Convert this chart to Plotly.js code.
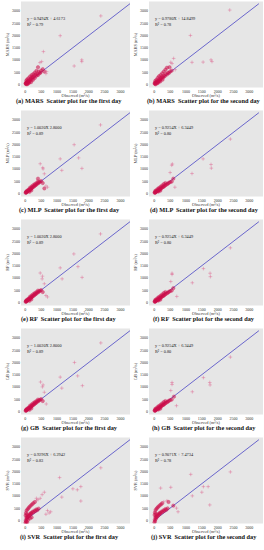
<!DOCTYPE html>
<html><head><meta charset="utf-8">
<script src="https://cdn.plot.ly/plotly-3.0.1.min.js"></script>
<style>html,body{margin:0;padding:0;background:#fff}#c{width:264px;height:550px}</style>
</head><body><div id="c"></div>
<script>
// ---- data (m^3/s) ----
const obsA  = [10,20,30,40,50,60,70,80,90,100,120,140,160,180,200,220,250,280,300,320,350,380,400,420,450,480,500,550,600,650,30,60,100,150,200,250,300,350,400,120,180,240,80,50,20,460,515,570,670,1100,2380,1780,1780,1540];
const predA = [40,30,70,50,90,60,110,80,130,100,160,120,200,250,190,300,280,330,260,400,350,420,380,520,450,480,560,620,520,440,150,200,250,320,380,420,480,550,700,60,90,180,20,0,10,890,930,1340,520,1990,2800,1000,930,750];
const obsB  = [10,20,30,40,60,80,100,120,140,160,180,200,220,250,280,300,330,360,400,430,460,500,550,30,70,110,150,200,250,300,350,400,130,190,260,90,40,2380,1140,1190,1540,1790,1820,610,520,560,660,480];
const predB = [30,60,20,80,50,110,90,150,130,200,170,260,230,300,280,350,330,420,400,480,460,520,560,140,190,260,330,380,450,520,600,680,70,120,190,40,0,3040,2000,900,910,1000,930,1060,900,850,600,700];
const obsC  = [10,20,30,40,60,80,100,120,140,160,180,200,220,250,280,300,330,360,400,430,460,500,550,600,650,700,30,70,110,150,200,250,300,350,400,130,190,2370,1540,1100,1680,1785,1150,470,550,560,600,400];
const predC = [20,40,30,60,70,90,110,120,150,170,190,210,230,260,290,320,340,370,410,440,470,500,420,200,300,250,80,120,160,230,280,330,380,420,480,60,120,2800,1990,1410,1450,1020,940,1210,1050,1000,800,600];
const obsD  = [10,20,30,40,60,80,100,120,140,160,180,200,220,250,280,300,330,360,400,430,460,500,550,30,70,110,150,200,250,300,350,130,190,2400,1540,1790,1800,1190,550,570,500,600,650];
const predD = [30,20,50,40,70,80,100,110,140,150,170,190,210,240,260,280,310,340,370,400,430,460,480,100,130,180,220,270,320,380,420,70,110,2220,1410,1180,1030,810,1150,1200,850,600,250];
const obsE  = [10,20,30,40,60,80,100,120,140,160,180,200,220,250,280,300,330,360,400,430,460,500,550,30,70,110,150,200,250,300,350,400,130,190,2370,1530,1100,1660,1790,1160,470,540,530,600,650,700];
const predE = [20,40,30,60,70,90,110,120,150,170,190,210,230,260,290,320,340,370,410,440,470,500,420,80,120,160,230,280,330,380,420,480,60,120,2800,1980,1410,1460,1020,960,1200,1070,960,760,280,220];
const obsF  = [10,20,30,40,60,80,100,120,140,160,180,200,220,250,280,300,330,360,400,430,460,500,550,30,70,110,150,200,250,300,350,130,190,2400,1550,1760,1770,1200,560,560,520,710,600];
const predF = [30,20,50,40,70,80,100,110,140,150,170,190,210,240,260,280,310,340,370,400,430,460,480,100,130,180,220,270,320,380,420,70,110,2230,1380,1190,1050,800,1190,1140,850,240,580];
const obsG  = [10,20,30,40,60,80,100,120,140,160,180,200,220,250,280,300,330,360,400,430,460,500,550,30,70,110,150,200,250,300,350,400,130,190,2380,1550,1100,1650,1800,1150,480,560,540,600,660];
const predG = [20,40,30,60,70,90,110,120,150,170,190,210,230,260,290,320,340,370,410,440,470,500,420,80,120,160,230,280,330,380,420,480,60,120,2800,2000,1400,1450,1050,950,1200,1080,1000,780,300];
const obsH  = [10,20,30,40,60,80,100,120,140,160,180,200,220,250,280,300,330,360,400,430,460,500,550,30,70,110,150,200,250,300,350,130,190,2400,1550,1750,1760,1200,560,560,520,700,620];
const predH = [30,20,50,40,70,80,100,110,140,150,170,190,210,240,260,280,310,340,370,400,430,460,480,100,130,180,220,270,320,380,420,70,110,2220,1380,1180,1080,800,1180,1100,850,230,600];
const obsI  = [5,15,25,35,50,60,80,100,120,140,160,180,200,230,260,290,320,350,380,420,20,40,70,100,130,170,210,250,300,350,400,30,60,90,150,200,10,45,2380,1080,1500,1640,1750,1750,1150,600,530,470,350,700,750,650,800];
const predI = [-100,0,-50,100,50,150,120,200,180,260,230,300,280,350,330,400,380,450,420,480,300,400,450,500,550,600,650,700,750,800,850,-150,-80,20,80,120,200,250,2150,1750,1290,1250,1380,790,950,1150,1050,900,900,400,300,250,350];
const obsJ  = [5,15,25,35,50,60,80,100,120,140,160,180,200,230,260,290,320,350,380,420,20,40,70,100,130,170,210,250,300,10,45,2400,1150,200,520,1550,1700,1500,1750,1200,400,450,600,700,750];
const predJ = [-80,20,-30,120,60,160,130,220,190,270,240,310,290,360,340,410,390,460,430,490,320,420,470,520,560,610,650,700,760,220,260,1980,1880,1320,1350,1380,1380,1150,630,1000,800,750,600,500,350];
const lineXY = [0, 3300];

const observedSets  = [obsA, obsB, obsC, obsD, obsE, obsF, obsG, obsH, obsI, obsJ];
const predictedSets = [predA, predB, predC, predD, predE, predF, predG, predH, predI, predJ];
const modelNames = ['MARS','MARS','MLP','MLP','RF','RF','GB','GB','SVR','SVR'];
const equations = ['y = 0.9494X + 4.6173','y = 0.9780X + 14.8499','y = 1.0020X 2.8000','y = 0.9254X + 6.3449',
  'y = 1.0020X 2.8000','y = 0.9254X + 6.3449','y = 1.0020X 2.8000','y = 0.9254X + 6.3449',
  'y = 0.9296X + 6.2942','y = 0.9071X + 7.4734'];
const r2Values = ['0.79','0.78','0.89','0.80','0.89','0.80','0.89','0.80','0.83','0.78'];
const captions = ['(a) MARS  Scatter plot for the first day','(b) MARS  Scatter plot for the second day',
  '(c) MLP  Scatter plot for the first day','(d) MLP  Scatter plot for the second day',
  '(e) RF  Scatter plot for the first day','(f) RF  Scatter plot for the second day',
  '(g) GB  Scatter plot for the first day','(h) GB  Scatter plot for the second day',
  '(i) SVR  Scatter plot for the first day','(j) SVR  Scatter plot for the second day'];
const tickVals = [0,500,1000,1500,2000,2500,3000];

// ---- layout geometry (pixels) ----
const W = 264, H = 550;
const colX = [[21,130],[149,263]];
const xRanges = [[-136,3300],[-167,3430]];
const yRange = [-130,3390];
const rowTop = 1.5, rowH = 86, pitch = 109;
const captionCx = [69, 204];
const serif = 'Liberation Serif, Times New Roman, serif';

const data = [], annotations = [];
const layout = {
  width: W, height: H, margin: {l:0,r:0,t:0,b:0},
  paper_bgcolor: '#ffffff', plot_bgcolor: '#e6e6e6', showlegend: false,
  font: {family: serif, color: '#333'}
};

for (let i = 0; i < 10; i++) {
  const col = i % 2, row = Math.floor(i / 2);
  const n = i + 1, sx = n === 1 ? '' : String(n);
  const top = rowTop + pitch * row, bottom = top + rowH;
  const xa = 'x' + sx, ya = 'y' + sx;
  layout['xaxis' + sx] = {
    domain: [colX[col][0] / W, colX[col][1] / W], anchor: ya, range: xRanges[col],
    tickvals: tickVals, ticks: '', showgrid: false, zeroline: false, showline: false,
    tickfont: {size: 4, family: serif, color: '#333'},
    title: {text: 'Observed (m³/s)', font: {size: 4.3, family: serif, color: '#333'}, standoff: 1}
  };
  layout['yaxis' + sx] = {
    domain: [1 - bottom / H, 1 - top / H], anchor: xa, range: yRange,
    tickvals: tickVals, ticks: '', showgrid: false, zeroline: false, showline: false,
    tickfont: {size: 4, family: serif, color: '#333'},
    title: {text: modelNames[i] + ' (m³/s)', font: {size: 4.3, family: serif, color: '#333'}, standoff: 2}
  };
  data.push({
    type: 'scatter', mode: 'lines', x: lineXY, y: lineXY, xaxis: xa, yaxis: ya,
    line: {color: '#6a66cc', width: 1}, hoverinfo: 'skip'
  });
  const ox = observedSets[i], py = predictedSets[i];
  const far = ox.map((v, k) => v > 620 || py[k] > 750);
  const cols = far.map(f => f ? 'rgba(222,95,140,0.85)' : 'rgba(205,15,75,0.8)');
  data.push({
    type: 'scatter', mode: 'markers', x: ox, y: py, xaxis: xa, yaxis: ya,
    marker: {
      symbol: far.map(f => f ? 'cross-thin-open' : 'circle'),
      color: cols,
      size: far.map(f => f ? 2.6 : 3.3),
      line: {width: 0.7, color: cols}
    }
  });
  annotations.push({
    xref: xa + ' domain', yref: 'paper', x: 4 / (colX[col][1] - colX[col][0]),
    y: 1 - (top + 12.5) / H, xanchor: 'left', yanchor: 'top', showarrow: false, align: 'left',
    text: equations[i] + '<br>R² = ' + r2Values[i],
    font: {size: 4.3, family: serif, color: '#222'}
  });
  annotations.push({
    xref: 'paper', yref: 'paper', x: captionCx[col] / W, y: 1 - (top + 99.5) / H,
    xanchor: 'center', yanchor: 'middle', showarrow: false,
    text: '<b>' + captions[i] + '</b>', font: {size: 6.3, family: serif, color: '#111'}
  });
}
layout.annotations = annotations;
Plotly.newPlot('c', data, layout, {staticPlot: true, displayModeBar: false});
</script></body></html>
